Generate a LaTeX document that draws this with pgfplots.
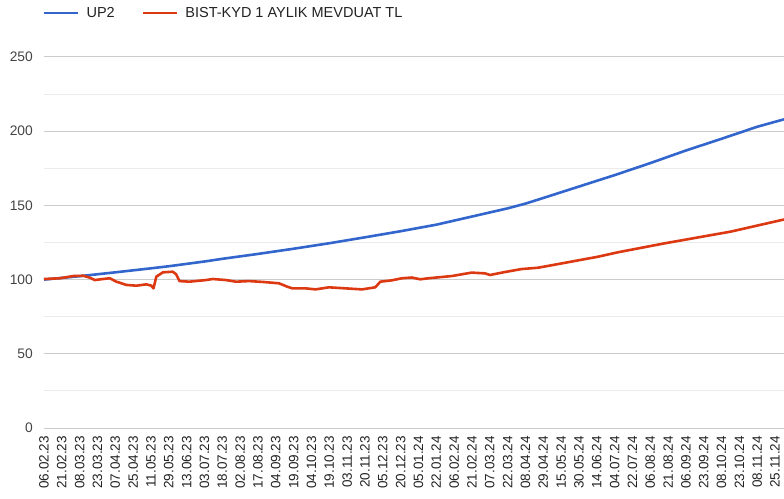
\documentclass[border=0pt]{standalone}
\usepackage{fontspec}
\setmainfont{Liberation Sans}
\usepackage{pgfplots}
\pgfplotsset{compat=1.18}
\usetikzlibrary{calc}
\definecolor{upblue}{HTML}{3366CC}
\definecolor{bistred}{HTML}{DC3912}
\definecolor{majgrid}{HTML}{CCCCCC}
\definecolor{mingrid}{HTML}{EBEBEB}
\definecolor{basecol}{HTML}{8A8A8A}
\definecolor{ylab}{HTML}{444444}
\definecolor{xlab}{HTML}{222222}
\begin{document}
\begin{tikzpicture}[x=1pt,y=1pt]
\begin{axis}[
  scale only axis, width=740pt, height=371pt,
  xmin=0, xmax=41.5, ymin=0, ymax=250,
  axis line style={draw=none},
  major tick style={draw=none}, minor tick style={draw=none},
  ytick={0,50,...,250},
  minor ytick={25,75,...,225},
  ymajorgrids, yminorgrids,
  major grid style={majgrid, line width=1pt},
  minor grid style={mingrid, line width=1pt},
  extra y ticks={0},
  extra y tick labels={},
  extra y tick style={grid style={basecol, line width=1.3pt}},
  xtick={0,...,41},
  xticklabels={06.02.23,21.02.23,08.03.23,23.03.23,07.04.23,25.04.23,11.05.23,29.05.23,13.06.23,03.07.23,18.07.23,02.08.23,17.08.23,04.09.23,19.09.23,04.10.23,19.10.23,03.11.23,20.11.23,05.12.23,20.12.23,05.01.24,22.01.24,06.02.24,21.02.24,07.03.24,22.03.24,08.04.24,29.04.24,15.05.24,30.05.24,14.06.24,04.07.24,22.07.24,06.08.24,21.08.24,06.09.24,23.09.24,08.10.24,23.10.24,08.11.24,25.11.24},
  /pgf/number format/assume math mode=true,
  x tick label style={rotate=90, anchor=east, inner sep=0pt, font=\fontsize{13.5}{15}\selectfont, text=xlab},
  y tick label style={anchor=east, inner sep=0pt, font=\fontsize{13.8}{15}\selectfont, text=ylab},
  xticklabel shift=8pt,
  yticklabel shift=11pt,
  legend columns=2,
  legend style={at={(rel axis cs:0,1)}, anchor=west, xshift=-1pt, yshift=44pt,
    draw=none, fill=none, inner sep=0pt, outer sep=0pt,
    font=\fontsize{14.5}{16}\selectfont, text=xlab,
    nodes={inner sep=0pt},
    /tikz/every odd column/.append style={column sep=7pt},
    /tikz/every even column/.append style={column sep=27pt}},
  legend image code/.code={\draw[#1] (0pt,0pt) -- (34pt,0pt);},
  clip=true,
]
\coordinate (ll) at (rel axis cs:0,0);
\addplot[upblue, line width=2.6pt, line join=round] coordinates {
(0,100) (2,102.3) (4,104.9) (6,107.6) (7,109.0) (9,112.2) (10,114.0) (12,117.3)
(14,120.8) (16,124.5) (18,128.5) (20,132.6) (22,137) (24,142.5) (26,148)
(27,151.2) (28,155) (30,162.7) (32,170.4) (34,178.5) (36,187) (38,194.9)
(40,203) (41.5,208)
};
\addlegendentry{UP2}
\addplot[bistred, line width=2.6pt, line join=round] coordinates {
(0,100.4) (0.89,100.9) (1.64,102.4) (2.2,102.6) (2.57,101.3) (2.85,99.7)
(3.31,100.4) (3.69,100.9) (4.06,98.6) (4.62,96.4) (5.18,95.9) (5.74,96.8)
(6.02,95.9) (6.14,94.1) (6.3,102) (6.67,104.9) (7.22,105.3) (7.41,103.6)
(7.6,99) (8.16,98.6) (9.09,99.7) (9.46,100.4) (10.2,99.7) (10.76,98.6)
(11.51,99) (12.3,98.4) (13.18,97.5) (13.65,95.2) (13.92,94.1) (14.67,94.1)
(15.23,93.4) (15.98,94.8) (16.91,94.1) (17.83,93.4) (18.58,94.8) (18.86,98.6)
(19.51,99.5) (20.07,100.9) (20.63,101.4) (21.1,100.2) (21.56,100.9)
(22.87,102.4) (23.98,104.7) (24.73,104.2) (25.01,103.1) (25.85,105.1)
(26.78,107.1) (27.71,108) (29.39,111.7) (31.06,115.4) (32.18,118.4)
(34.79,124.4) (38.5,132.3) (41.5,140.5)
};
\addlegendentry{BIST-KYD 1 AYLIK MEVDUAT TL}
\end{axis}
\pgfresetboundingbox
\path[use as bounding box] ($(ll)+(-44,-70)$) rectangle ($(ll)+(740,428)$);
\end{tikzpicture}
\end{document}
